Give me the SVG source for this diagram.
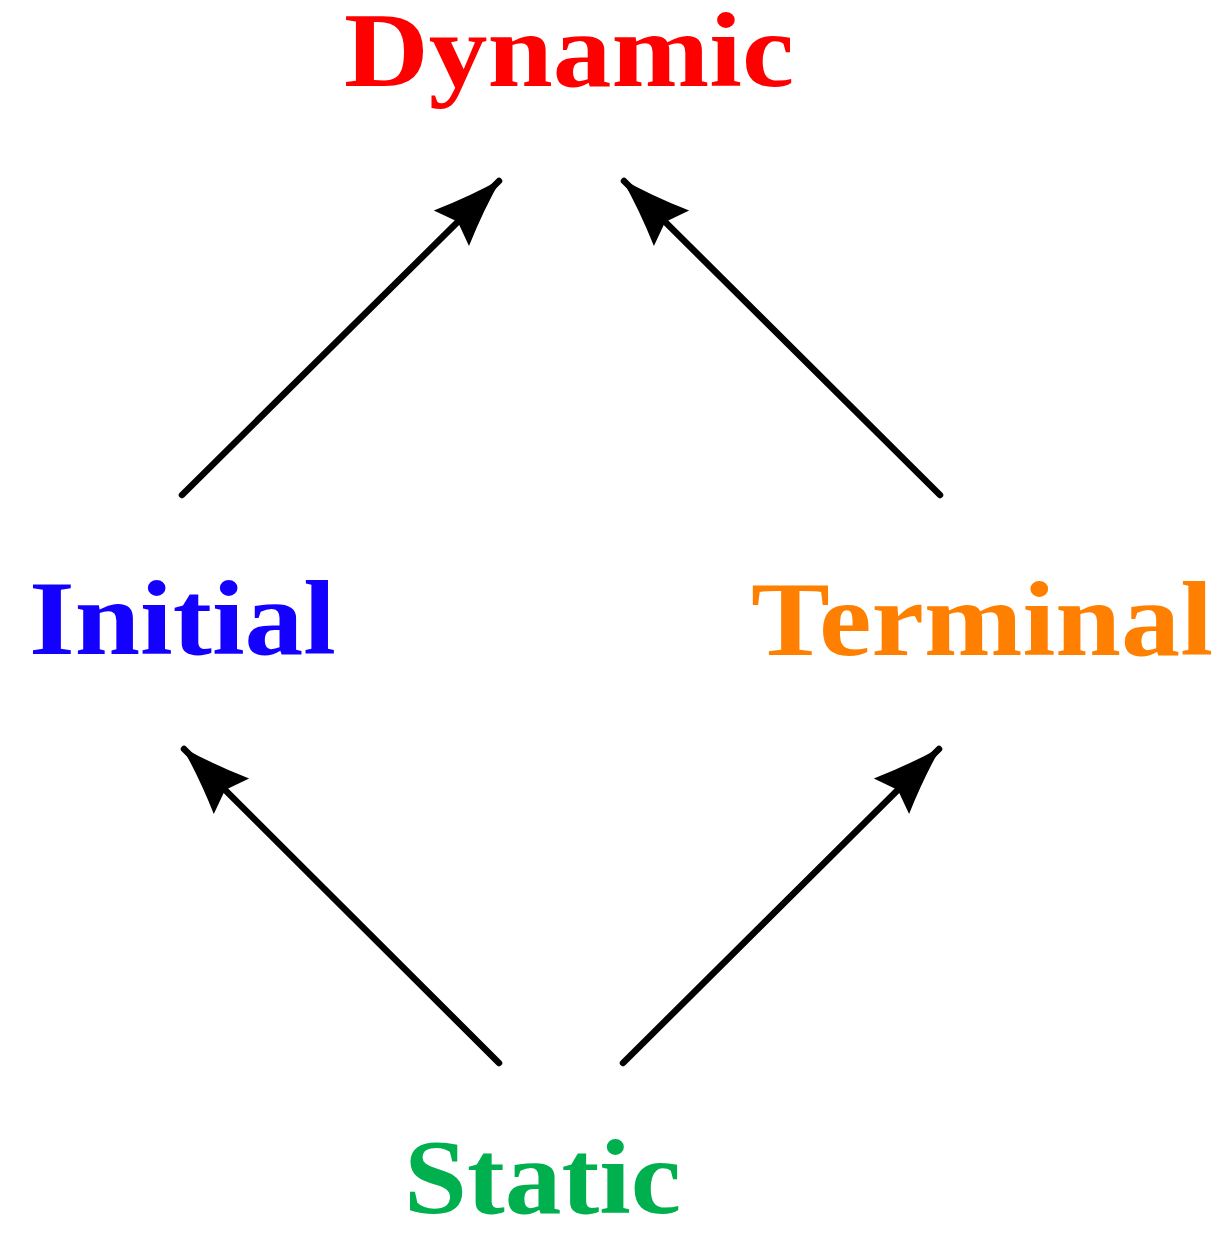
<svg xmlns="http://www.w3.org/2000/svg" width="1231" height="1238" viewBox="0 0 1231 1238">
  <style>
    .label { font-family: "Liberation Serif", "Times New Roman", serif; font-weight: bold; font-size: 106px; }
    .edge { fill: none; stroke: #000; stroke-width: 6.5; stroke-linecap: round; marker-end: url(#head); }
  </style>
  <defs>
    <!-- curved-sided arrowhead, tip at origin pointing along +x -->
    <marker id="head" markerUnits="userSpaceOnUse" viewBox="-72 -28 78 56" refX="0" refY="0" markerWidth="78" markerHeight="56" orient="auto">
      <path d="M3,0 Q-30,-9 -67,-25 L-58,0 L-67,25 Q-30,9 3,0 Z" fill="#000"/>
    </marker>
  </defs>
  <rect width="1231" height="1238" fill="#fff"/>

  <g id="connectors">
    <line class="edge" x1="182" y1="495" x2="499" y2="181"/>
    <line class="edge" x1="940" y1="495" x2="624" y2="181"/>
    <line class="edge" x1="499" y1="1063" x2="184" y2="749"/>
    <line class="edge" x1="623" y1="1063" x2="939" y2="749"/>
  </g>

  <g id="dynamic">
    <text class="label" x="344" y="86" fill="#ff0000" textLength="450" lengthAdjust="spacingAndGlyphs">Dynamic</text>
  </g>
  <g id="initial">
    <text class="label" x="29" y="654" fill="#1400ff" textLength="307" lengthAdjust="spacingAndGlyphs">Initial</text>
  </g>
  <g id="terminal">
    <text class="label" x="751" y="655" fill="#ff7f00" textLength="462" lengthAdjust="spacingAndGlyphs">Terminal</text>
  </g>
  <g id="static">
    <text class="label" x="404" y="1213" fill="#00b04f" textLength="277" lengthAdjust="spacingAndGlyphs">Static</text>
  </g>
</svg>
